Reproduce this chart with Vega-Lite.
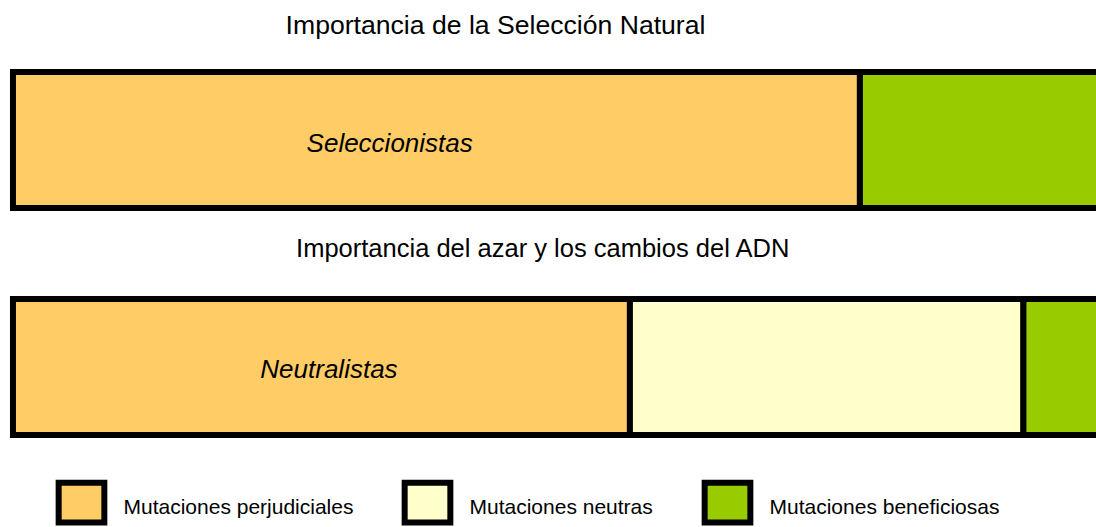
{
  "$schema": "https://vega.github.io/schema/vega-lite/v6.json",
  "width": 1096,
  "height": 527,
  "autosize": {"type": "none"},
  "padding": 0,
  "background": "white",
  "config": {"view": {"stroke": null}, "font": "Liberation Sans", "text": {"color": "black"}},
  "layer": [
    {
      "data": {"values": [
        {"grupo": "Seleccionistas", "tipo": "Mutaciones perjudiciales", "valor": 77.7, "orden": 1},
        {"grupo": "Seleccionistas", "tipo": "Mutaciones beneficiosas", "valor": 22.3, "orden": 3},
        {"grupo": "Neutralistas", "tipo": "Mutaciones perjudiciales", "valor": 56.6, "orden": 1},
        {"grupo": "Neutralistas", "tipo": "Mutaciones neutras", "valor": 36.1, "orden": 2},
        {"grupo": "Neutralistas", "tipo": "Mutaciones beneficiosas", "valor": 7.3, "orden": 3}
      ]},
      "mark": {"type": "bar", "stroke": "black", "strokeWidth": 6, "clip": true},
      "encoding": {
        "y": {"field": "grupo", "type": "nominal", "axis": null,
              "scale": {"domain": ["Seleccionistas", "Neutralistas"], "paddingInner": 0.401, "paddingOuter": 0.361, "align": 0.439}},
        "x": {"field": "valor", "type": "quantitative", "stack": "zero", "axis": null,
              "scale": {"domain": [-1.19, 99.36], "nice": false, "zero": false}},
        "color": {"field": "tipo", "type": "nominal",
          "scale": {"domain": ["Mutaciones perjudiciales", "Mutaciones neutras", "Mutaciones beneficiosas"],
                    "range": ["#FFCC66", "#FFFFCC", "#99CC00"]},
          "legend": {"orient": "none", "legendX": 55.5, "legendY": 476.5, "direction": "horizontal", "title": null,
            "symbolType": "M-1,-0.871H1V0.871H-1Z", "symbolSize": 2088, "symbolStrokeColor": "black", "symbolStrokeWidth": 6,
            "symbolOpacity": 1, "labelFontSize": 21, "labelFont": "Liberation Sans", "labelColor": "black",
            "labelOffset": 16, "columnPadding": 39, "padding": 0, "labelLimit": 400,
            "encode": {"labels": {"update": {"dy": {"value": 5}}}}}},
        "order": {"field": "orden", "type": "quantitative"}
      }
    },
    {
      "data": {"values": [{"grupo": "Seleccionistas", "texto": "Importancia de la Selección Natural"}]},
      "mark": {"type": "text", "fontSize": 26.6, "baseline": "alphabetic", "align": "center", "yOffset": -105.8},
      "encoding": {"y": {"field": "grupo", "type": "nominal"}, "x": {"datum": 44.27}, "text": {"field": "texto"}}
    },
    {
      "data": {"values": [{"grupo": "Neutralistas", "texto": "Importancia del azar y los cambios del ADN"}]},
      "mark": {"type": "text", "fontSize": 25.5, "baseline": "alphabetic", "align": "center", "yOffset": -109.7},
      "encoding": {"y": {"field": "grupo", "type": "nominal"}, "x": {"datum": 48.6}, "text": {"field": "texto"}}
    },
    {
      "data": {"values": [{"grupo": "Seleccionistas", "texto": "Seleccionistas"}]},
      "mark": {"type": "text", "fontSize": 26, "fontStyle": "italic", "baseline": "alphabetic", "align": "center", "yOffset": 11.6},
      "encoding": {"y": {"field": "grupo", "type": "nominal"}, "x": {"datum": 34.56}, "text": {"field": "texto"}}
    },
    {
      "data": {"values": [{"grupo": "Neutralistas", "texto": "Neutralistas"}]},
      "mark": {"type": "text", "fontSize": 26, "fontStyle": "italic", "baseline": "alphabetic", "align": "center", "yOffset": 11.3},
      "encoding": {"y": {"field": "grupo", "type": "nominal"}, "x": {"datum": 28.99}, "text": {"field": "texto"}}
    }
  ]
}
